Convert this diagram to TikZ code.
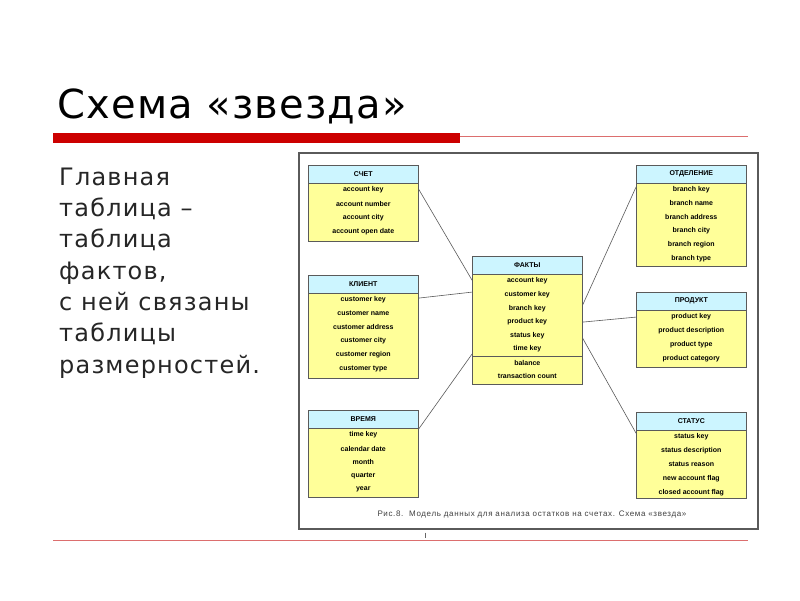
\documentclass[tikz,border=0pt]{standalone}
\usepackage{fontspec}
\setmainfont{DejaVu Sans}
\newfontfamily\titlefont{DejaVu Sans}[LetterSpace=3]
\newfontfamily\bodyfont{DejaVu Sans}[LetterSpace=5]
\newfontfamily\tabfont{Liberation Sans}
\newfontfamily\capfont{Liberation Sans}[LetterSpace=8]
\usetikzlibrary{calc}
\definecolor{hdrcol}{RGB}{204,245,255}
\definecolor{bodycol}{RGB}{255,255,153}
\definecolor{redbar}{RGB}{204,0,0}
\definecolor{redthin}{RGB}{220,110,110}
\definecolor{framecol}{RGB}{90,90,90}
\tikzset{
  hdr/.style={draw=framecol, fill=hdrcol, line width=0.6pt, minimum width=110, minimum height=17.5, inner sep=0pt, font=\tabfont\bfseries\fontsize{7}{8}\selectfont},
  bodybox/.style={draw=framecol, fill=bodycol, line width=0.6pt, minimum width=110, inner sep=0pt},
  rowtxt/.style={inner sep=0pt, font=\tabfont\bfseries\fontsize{7}{8}\selectfont},
  link/.style={draw=framecol, line width=0.6pt},
}
\begin{document}
\begin{tikzpicture}[x=1pt,y=-1pt]
\useasboundingbox (0,0) rectangle (800,600);
\fill[white] (0,0) rectangle (800,600);
% title
\node[anchor=base west, inner sep=0pt, font=\titlefont\fontsize{40}{48}\selectfont] (title) at (57,118) {Схема «звезда»};
\fill[redbar] (53,133) rectangle (460,143);
\draw[redthin, line width=0.7pt] (460,136) -- (748,136);
\draw[redthin, line width=0.7pt] (53,540) -- (748,540);
% body text
\node[anchor=base west, align=left, inner sep=0pt, text=black!85, font=\bodyfont\fontsize{24}{31.3}\selectfont] (txt) at (59,373)
 {Главная\\таблица –\\таблица\\фактов,\\с ней связаны\\таблицы\\размерностей.};
% frame
\node[draw=framecol, line width=1.5pt, fill=white, minimum width=459, minimum height=376, anchor=north west, inner sep=0pt] (frame) at (298,152) {};
\node[anchor=base, inner sep=0pt, text=black!75, font=\capfont\fontsize{8}{9}\selectfont] (cap) at (532,516)
 {Рис.8.\ \ Модель данных для анализа остатков на счетах. Схема «звезда»};
\draw[black!60, line width=0.6pt] ($(frame.south west)+(127,3)$) -- ($(frame.south west)+(127,8)$);

% СЧЕТ
\node[hdr, anchor=north west] (schetH) at (308,165) {СЧЕТ};
\node[bodybox, anchor=north, minimum height=58] (schet) at (schetH.south) {};
\foreach \t [count=\i] in {account key,account number,account city,account open date}
  \node[rowtxt] at ($(schet.north)+(0,{7+(\i-1)*13.7})$) {\t};
% КЛИЕНТ
\node[hdr, anchor=north west] (klientH) at (308,275) {КЛИЕНТ};
\node[bodybox, anchor=north, minimum height=85] (klient) at (klientH.south) {};
\foreach \t [count=\i] in {customer key,customer name,customer address,customer city,customer region,customer type}
  \node[rowtxt] at ($(klient.north)+(0,{6.5+(\i-1)*13.8})$) {\t};
% ВРЕМЯ
\node[hdr, anchor=north west] (vremyaH) at (308,410) {ВРЕМЯ};
\node[bodybox, anchor=north, minimum height=69] (vremya) at (vremyaH.south) {};
\foreach \t [count=\i] in {time key,calendar date,month,quarter,year}
  \node[rowtxt] at ($(vremya.north)+(0,{7+(\i-1)*13.6})$) {\t};
% ФАКТЫ
\node[hdr, anchor=north west] (faktyH) at (472,256) {ФАКТЫ};
\node[bodybox, anchor=north, minimum height=110] (fakty) at (faktyH.south) {};
\foreach \t [count=\i] in {account key,customer key,branch key,product key,status key,time key}
  \node[rowtxt] at ($(fakty.north)+(0,{7+(\i-1)*13.6})$) {\t};
\draw[framecol, line width=0.6pt] ($(fakty.north west)+(0,82)$) -- ($(fakty.north east)+(0,82)$);
\node[rowtxt] at ($(fakty.north)+(0,88.5)$) {balance};
\node[rowtxt] at ($(fakty.north)+(0,102)$) {transaction count};
% ОТДЕЛЕНИЕ
\node[hdr, anchor=north west] (otdH) at (636,165) {ОТДЕЛЕНИЕ};
\node[bodybox, anchor=north, minimum height=83] (otd) at (otdH.south) {};
\foreach \t [count=\i] in {branch key,branch name,branch address,branch city,branch region,branch type}
  \node[rowtxt] at ($(otd.north)+(0,{6.5+(\i-1)*13.8})$) {\t};
% ПРОДУКТ
\node[hdr, anchor=north west] (prodH) at (636,292) {ПРОДУКТ};
\node[bodybox, anchor=north, minimum height=57] (prod) at (prodH.south) {};
\foreach \t [count=\i] in {product key,product description,product type,product category}
  \node[rowtxt] at ($(prod.north)+(0,{7+(\i-1)*13.8})$) {\t};
% СТАТУС
\node[hdr, anchor=north west] (statH) at (636,412) {СТАТУС};
\node[bodybox, anchor=north, minimum height=68] (stat) at (statH.south) {};
\foreach \t [count=\i] in {status key,status description,status reason,new account flag,closed account flag}
  \node[rowtxt] at ($(stat.north)+(0,{6.5+(\i-1)*13.9})$) {\t};

% connectors
\draw[link] ($(schet.north east)+(0,6)$) -- ($(fakty.north west)+(0,6)$);
\draw[link] ($(klient.north east)+(0,5)$) -- ($(fakty.north west)+(0,18)$);
\draw[link] ($(vremya.north east)+(0,1)$) -- ($(fakty.north west)+(0,80)$);
\draw[link] ($(otd.north west)+(0,4)$) -- ($(fakty.north east)+(0,31)$);
\draw[link] ($(prod.north west)+(0,7)$) -- ($(fakty.north east)+(0,48)$);
\draw[link] ($(stat.north west)+(0,3)$) -- ($(fakty.north east)+(0,64)$);
\end{tikzpicture}
\end{document}
